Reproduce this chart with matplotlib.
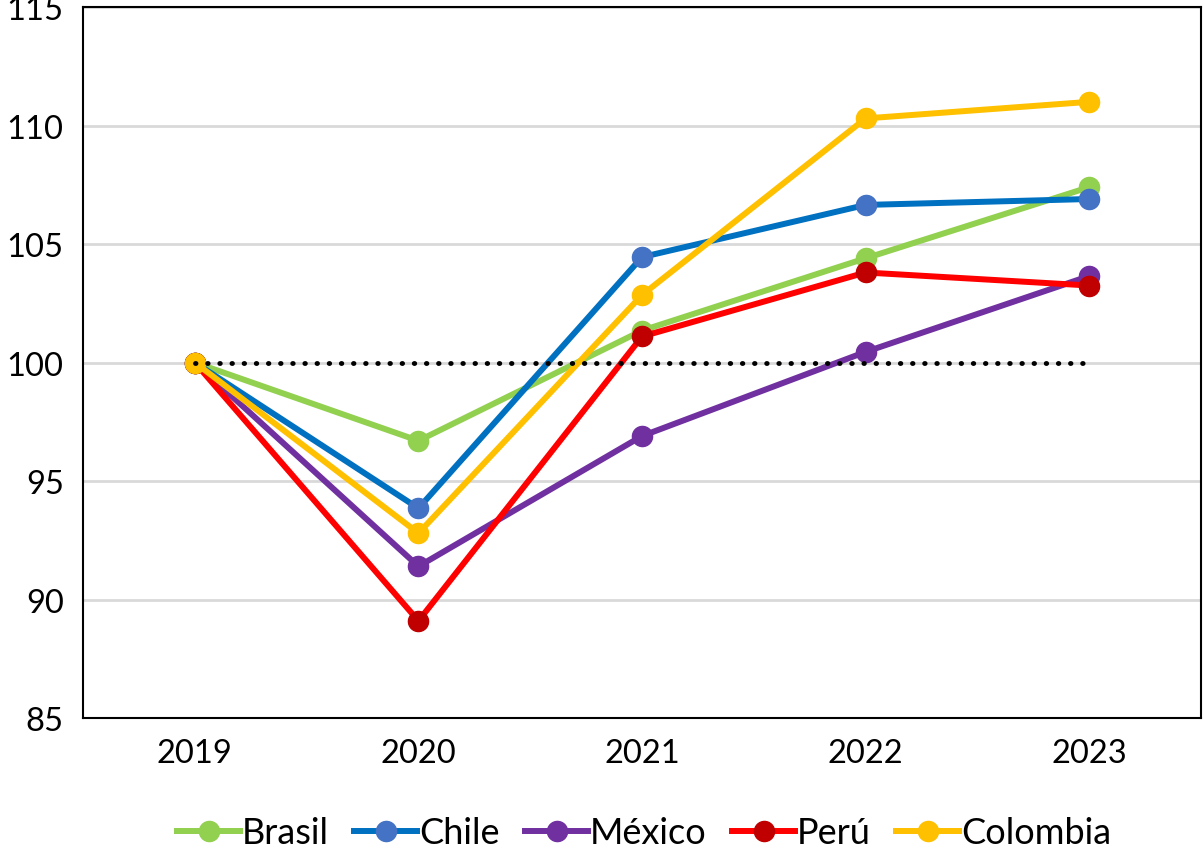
import matplotlib.pyplot as plt
from matplotlib import font_manager

years = ['2019', '2020', '2021', '2022', '2023']
brasil = [100, 96.7, 101.35, 104.4, 107.4]
chile = [100, 93.85, 104.45, 106.65, 106.9]
mexico = [100, 91.4, 96.9, 100.45, 103.65]
peru = [100, 89.1, 101.1, 103.8, 103.25]
colombia = [100, 92.8, 102.85, 110.3, 111.0]
baseline = [100, 100, 100, 100, 100]

names = [f.name for f in font_manager.fontManager.ttflist]
tick_font = 'Lato' if 'Lato' in names else 'DejaVu Sans'

fig = plt.figure(figsize=(12.04, 8.53), dpi=100)
ax = fig.add_axes([0.069, 0.157, 0.9285, 0.8336])

x = range(len(years))
series = [
    ('Brasil', brasil, '#92D050', '#92D050'),
    ('Chile', chile, '#0070C0', '#4472C4'),
    ('México', mexico, '#7030A0', '#7030A0'),
    ('Perú', peru, '#FF0000', '#C00000'),
    ('Colombia', colombia, '#FFC000', '#FFC000'),
]

ax.plot(x, baseline, color='black', lw=3.5, linestyle=(0, (0.1, 2.4)),
        dash_capstyle='round', zorder=5)
for name, vals, lc, mc in series:
    ax.plot(x, vals, color=lc, lw=4.3, marker='o', markersize=14.5,
            markerfacecolor=mc, markeredgecolor=mc, label=name, zorder=3)

ax.set_xlim(-0.5, 4.5)
ax.set_ylim(85, 115)
ax.set_yticks([85, 90, 95, 100, 105, 110, 115])
ax.set_xticks(list(x))
ax.set_xticklabels(years)
ax.grid(axis='y', color='#D9D9D9', lw=2)
ax.set_axisbelow(True)
for s in ax.spines.values():
    s.set_linewidth(1.5)
ax.tick_params(length=0, labelsize=23.5, pad=14)
ax.tick_params(axis='y', pad=14)
for lab in ax.get_xticklabels() + ax.get_yticklabels():
    lab.set_fontfamily(tick_font)

leg = fig.legend(loc='lower center', bbox_to_anchor=(0.535, -0.035), ncol=5,
                 frameon=False, handlelength=1.75, handletextpad=0.05,
                 columnspacing=0.7, prop={'family': tick_font, 'size': 26})

fig.savefig('out.png', dpi=100)
